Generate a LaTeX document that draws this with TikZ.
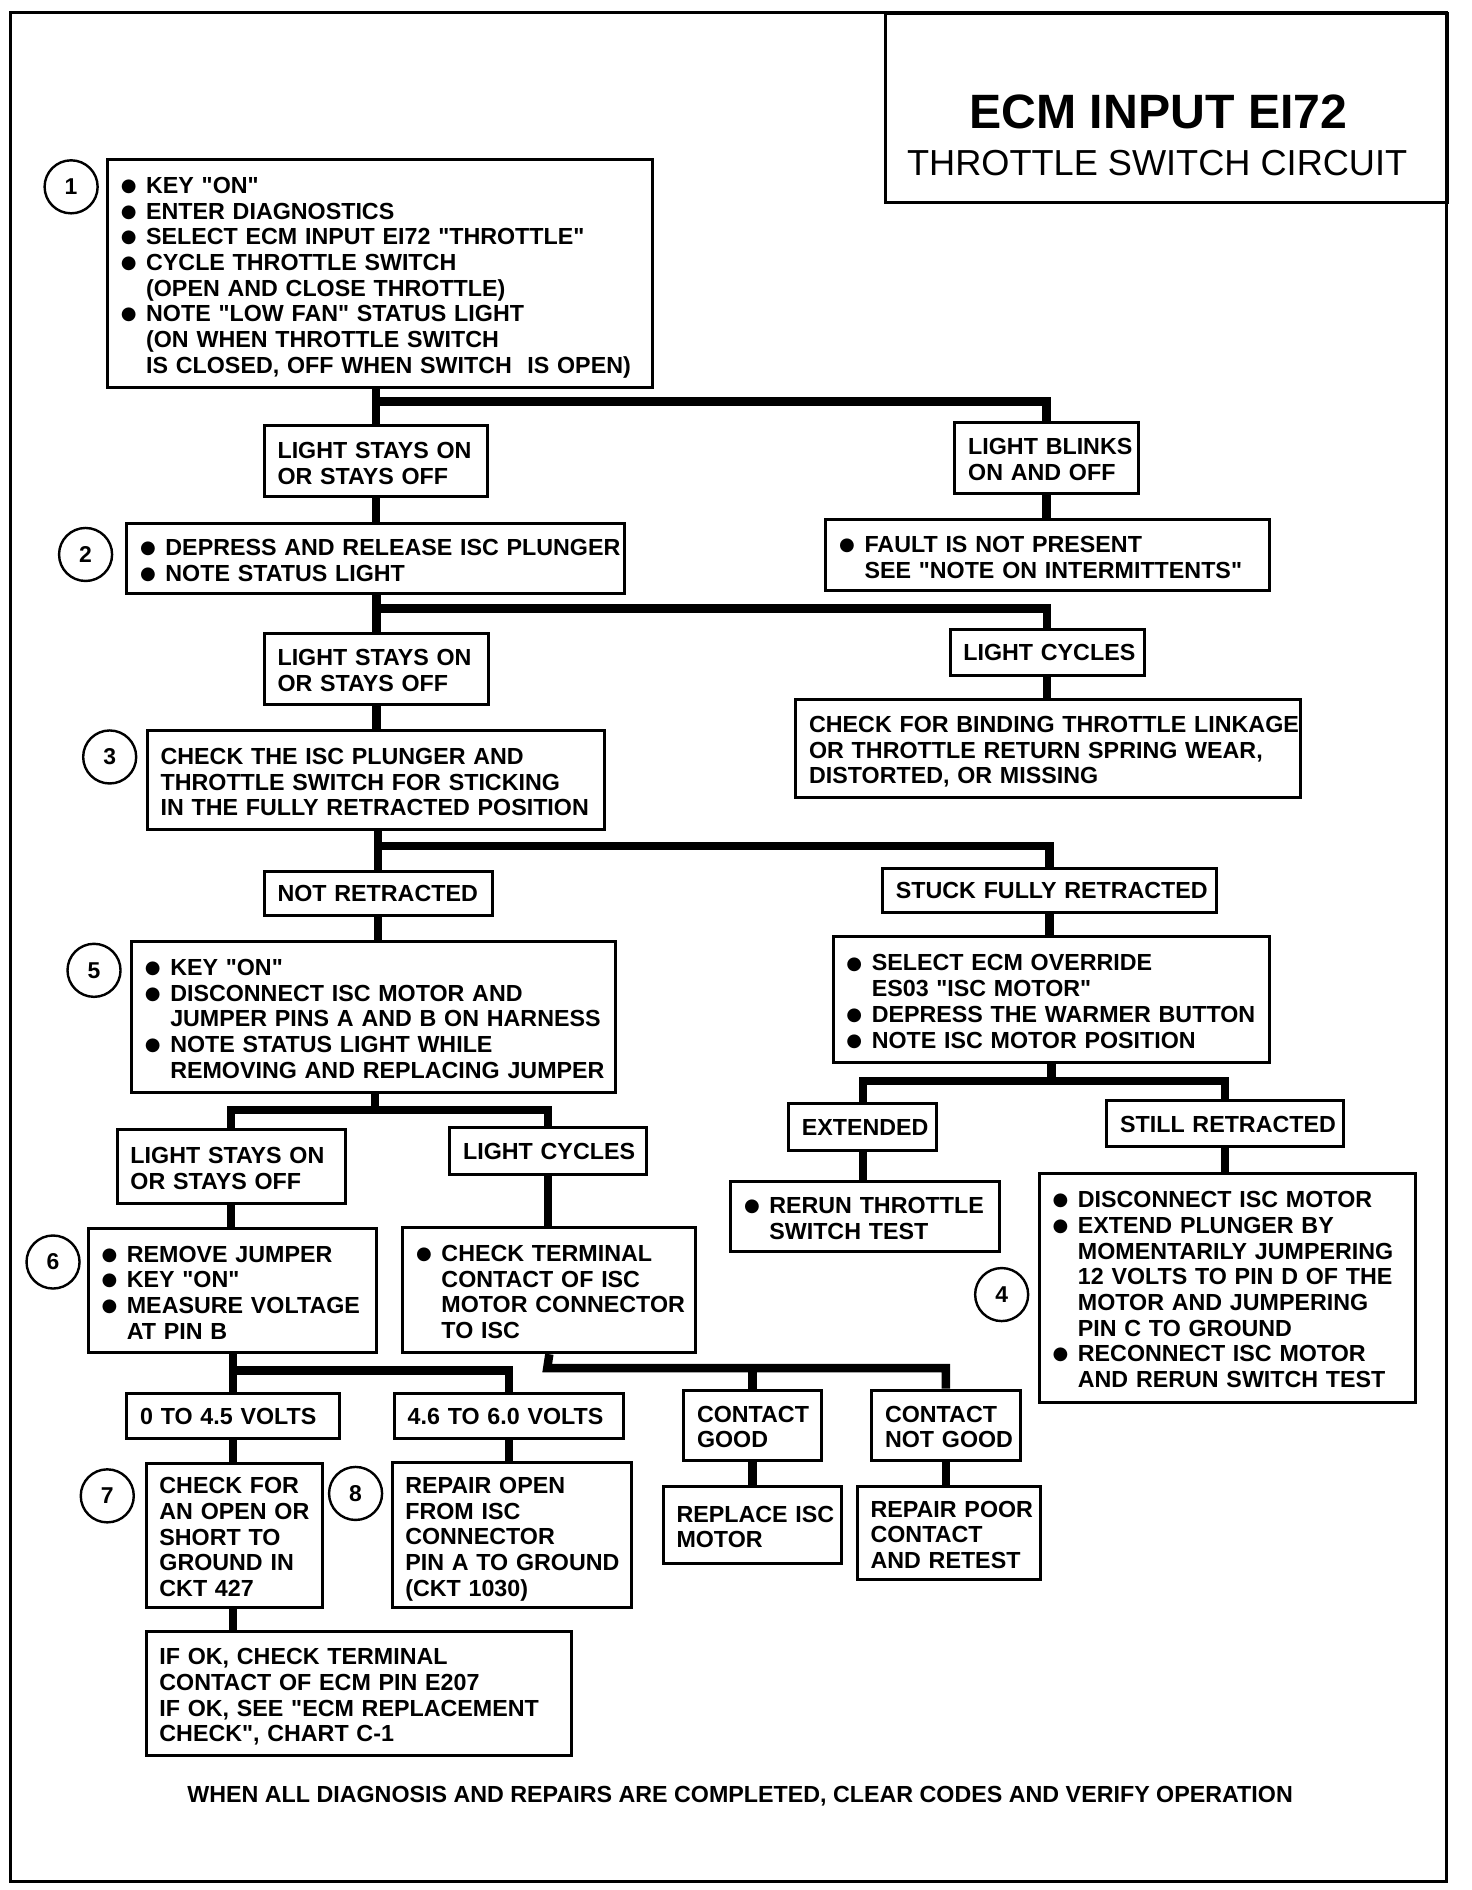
\documentclass[tikz,border=0pt]{standalone}
\usepackage{fontspec}
\setmainfont{Liberation Sans}
\newfontfamily\bulfont{DejaVu Sans}
\usetikzlibrary{calc}
\tikzset{l/.style={font=\fontsize{19.3}{21.3}\selectfont\bfseries}}
\tikzset{panel/.style 2 args={draw, line width=2.5pt, anchor=north west, inner xsep=11pt, inner ysep=0pt,
    minimum width=#1pt, minimum height=#2pt, text width=#1pt-22pt, l}}
\tikzset{link/.style={line width=7pt}}
\tikzset{num/.style={draw, circle, line width=2pt, minimum size=44pt, inner sep=0pt, font=\fontsize{19}{19}\selectfont\bfseries}}
\newcommand{\lns}[1]{\raisebox{0pt}[\height][\dimexpr\depth-8pt\relax]{\begin{tabular}{@{}l@{}}#1\end{tabular}}}
\newcommand{\bul}{\makebox[21pt][l]{\raisebox{1.5pt}{\bulfont\fontsize{15}{15}\selectfont ●}}}
\newcommand{\ind}{\hspace*{21pt}}
\newcommand{\dq}{\textquotedbl}

\begin{document}
\begin{tikzpicture}[x=1pt,y=-1pt]
        \useasboundingbox (0,0) rectangle (1221,1568);
        \draw[line width=2.5pt] (9,10) rectangle (1200,1561);
        \node[draw, line width=2.5pt, anchor=north west, minimum width=467pt, minimum height=157pt] (ttl) at (733,10) {};
        \node[font=\fontsize{40}{40}\selectfont\bfseries] (ttla) at (961,93) {ECM INPUT EI72};
        \node[font=\fontsize{30}{30}\selectfont] (ttlb) at (960,135) {THROTTLE SWITCH CIRCUIT};

        \node[panel={452}{189}] (b1) at (88,131) {\lns{\bul KEY \dq ON\dq\\ \bul ENTER DIAGNOSTICS\\ \bul SELECT ECM INPUT EI72 \dq THROTTLE\dq\\
          \bul CYCLE THROTTLE SWITCH\\ \ind (OPEN AND CLOSE THROTTLE)\\ \bul NOTE \dq LOW FAN\dq\ STATUS LIGHT\\
          \ind (ON WHEN THROTTLE SWITCH\\ \ind IS CLOSED, OFF WHEN SWITCH \ IS OPEN)}};
        \node[panel={185}{59}] (ls1) at (218,352) {\lns{LIGHT STAYS ON\\ OR STAYS OFF}};
        \node[panel={152}{59}] (lb1) at (791,349) {\lns{LIGHT BLINKS\\ ON AND OFF}};
        \node[panel={413}{58}] (b2) at (104,433) {\lns{\bul DEPRESS AND RELEASE ISC PLUNGER\\ \bul NOTE STATUS LIGHT}};
        \node[panel={368}{59}] (flt) at (684,430) {\lns{\bul FAULT IS NOT PRESENT\\ \ind SEE \dq NOTE ON INTERMITTENTS\dq}};
        \node[panel={186}{59}] (ls2) at (218,524) {\lns{LIGHT STAYS ON\\ OR STAYS OFF}};
        \node[panel={161}{38}] (lc2) at (787,521) {\lns{LIGHT CYCLES}};
        \node[panel={419}{81}] (bind) at (659,579) {\lns{CHECK FOR BINDING THROTTLE LINKAGE\\ OR THROTTLE RETURN SPRING WEAR,\\ DISTORTED, OR MISSING}};
        \node[panel={379}{82}] (b3) at (121,605) {\lns{CHECK THE ISC PLUNGER AND\\ THROTTLE SWITCH FOR STICKING\\ IN THE FULLY RETRACTED POSITION}};
        \node[panel={189}{36}] (nret) at (218,722) {\lns{NOT RETRACTED}};
        \node[panel={277}{37}] (stk) at (731,719) {\lns{STUCK FULLY RETRACTED}};
        \node[panel={401}{125}] (b5) at (108,780) {\lns{\bul KEY \dq ON\dq\\ \bul DISCONNECT ISC MOTOR AND\\ \ind JUMPER PINS A AND B ON HARNESS\\
          \bul NOTE STATUS LIGHT WHILE\\ \ind REMOVING AND REPLACING JUMPER}};
        \node[panel={362}{104}] (ovr) at (690,776) {\lns{\bul SELECT ECM OVERRIDE\\ \ind ES03 \dq ISC MOTOR\dq\\ \bul DEPRESS THE WARMER BUTTON\\ \bul NOTE ISC MOTOR POSITION}};
        \node[panel={123}{39}] (ext) at (653,914) {\lns{EXTENDED}};
        \node[panel={196}{38}] (still) at (917,912) {\lns{STILL RETRACTED}};
        \node[panel={223}{58}] (rerun) at (605,979) {\lns{\bul RERUN THROTTLE\\ \ind SWITCH TEST}};
        \node[panel={312}{190}] (b4) at (861,972) {\lns{\bul DISCONNECT ISC MOTOR\\ \bul EXTEND PLUNGER BY\\ \ind MOMENTARILY JUMPERING\\
          \ind 12 VOLTS TO PIN D OF THE\\ \ind MOTOR AND JUMPERING\\ \ind PIN C TO GROUND\\ \bul RECONNECT ISC MOTOR\\ \ind AND RERUN SWITCH TEST}};
        \node[panel={189}{61}] (ls3) at (96,936) {\lns{LIGHT STAYS ON\\ OR STAYS OFF}};
        \node[panel={163}{39}] (lc3) at (372,934) {\lns{LIGHT CYCLES}};
        \node[panel={239}{103}] (b6) at (72,1018) {\lns{\bul REMOVE JUMPER\\ \bul KEY \dq ON\dq\\ \bul MEASURE VOLTAGE\\ \ind AT PIN B}};
        \node[panel={243}{104}] (term) at (333,1017) {\lns{\bul CHECK TERMINAL\\ \ind CONTACT OF ISC\\ \ind MOTOR CONNECTOR\\ \ind TO ISC}};
        \node[panel={176}{37}] (lo) at (104,1155) {\lns{0 TO 4.5 VOLTS}};
        \node[panel={190}{37}] (hi) at (326,1155) {\lns{4.6 TO 6.0 VOLTS}};
        \node[panel={114}{58}] (good) at (566,1152) {\lns{CONTACT\\ GOOD}};
        \node[panel={123}{58}] (ngood) at (722,1152) {\lns{CONTACT\\ NOT GOOD}};
        \node[panel={148}{64}] (repl) at (549,1232) {\lns{REPLACE ISC\\ MOTOR}};
        \node[panel={152}{77}] (poor) at (710,1232) {\lns{REPAIR POOR\\ CONTACT\\ AND RETEST}};
        \node[panel={146}{119}] (b7) at (120,1213) {\lns{CHECK FOR\\ AN OPEN OR\\ SHORT TO\\ GROUND IN\\ CKT 427}};
        \node[panel={199}{120}] (b8) at (324,1212) {\lns{REPAIR OPEN\\ FROM ISC\\ CONNECTOR\\ PIN A TO GROUND\\ (CKT 1030)}};
        \node[panel={353}{103}] (ok) at (120,1352) {\lns{IF OK, CHECK TERMINAL\\ CONTACT OF ECM PIN E207\\ IF OK, SEE \dq ECM REPLACEMENT\\ CHECK\dq, CHART C-1}};
        \node[l] (foot) at (614,1490) {WHEN ALL DIAGNOSIS AND REPAIRS ARE COMPLETED, CLEAR CODES AND VERIFY OPERATION};

        \node[num] (n1) at (59,155) {1};
        \node[num] (n2) at (71,460) {2};
        \node[num] (n3) at (91,628) {3};
        \node[num] (n4) at (831,1074) {4};
        \node[num] (n5) at (78,805) {5};
        \node[num] (n6) at (44,1047) {6};
        \node[num] (n7) at (89,1241) {7};
        \node[num] (n8) at (295,1239) {8};

        \coordinate (j1) at (311,333);
        \coordinate (j2) at (311,505);
        \coordinate (j3) at (311,702);
        \coordinate (j4) at (870,897);
        \coordinate (j5) at (311,921);
        \coordinate (j6) at (191,1137);
        \coordinate (j7) at (454,1135);

        \draw[link] (ls1.north) -- (ls1.north |- b1.south);
        \draw[link] (j1) -| (lb1.north);
        \draw[link] (ls1.south) -- (ls1.south |- b2.north);
        \draw[link] (lb1.south) -- (lb1.south |- flt.north);
        \draw[link] (ls2.north) -- (ls2.north |- b2.south);
        \draw[link] (j2) -| (lc2.north);
        \draw[link] (lc2.south) -- (lc2.south |- bind.north);
        \draw[link] (ls2.south) -- (ls2.south |- b3.north);
        \draw[link] (nret.north) -- (nret.north |- b3.south);
        \draw[link] (j3) -| (stk.north);
        \draw[link] (nret.south) -- (nret.south |- b5.north);
        \draw[link] (stk.south) -- (stk.south |- ovr.north);
        \draw[link] (ovr.south) -- (ovr.south |- j4);
        \draw[link] (ext.north) |- (j4) -| (still.north);
        \draw[link] (ext.south) -- (ext.south |- rerun.north);
        \draw[link] (still.south) -- (still.south |- b4.north);
        \draw[link] (j5) -- (j5 |- b5.south);
        \draw[link] (ls3.north) |- (j5) -| (lc3.north);
        \draw[link] (ls3.south) -- (ls3.south |- b6.north);
        \draw[link] (lc3.south) -- (lc3.south |- term.north);
        \draw[link] (lo.north) -- (lo.north |- b6.south);
        \draw[link] (j6) -| (hi.north);
        \draw[link] (term.south) -- (j7) -| (ngood.north);
        \draw[link] (good.north) -- (good.north |- j7);
        \draw[link] (good.south) -- (good.south |- repl.north);
        \draw[link] (ngood.south) -- (ngood.south |- poor.north);
        \draw[link] (lo.south) -- (lo.south |- b7.north);
        \draw[link] (hi.south) -- (hi.south |- b8.north);
        \draw[link] (lo.south |- b7.south) -- (lo.south |- ok.north);
\end{tikzpicture}
\end{document}
